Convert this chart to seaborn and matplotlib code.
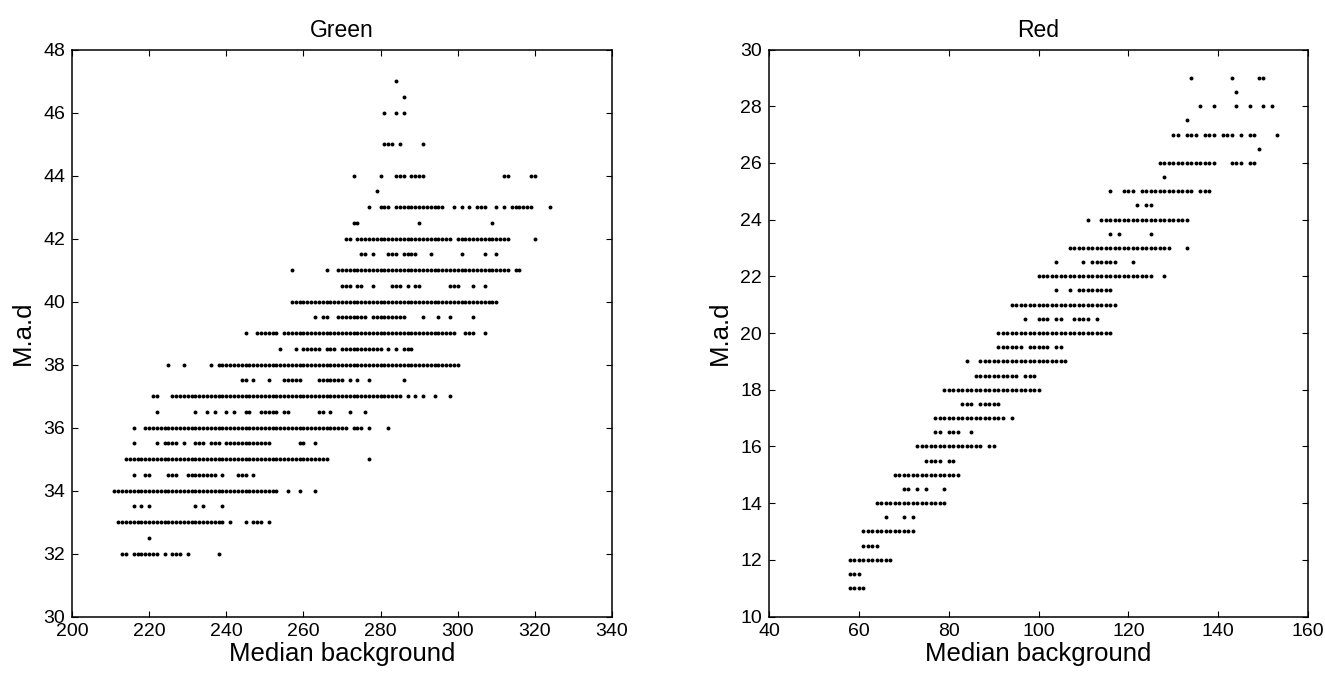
import matplotlib
matplotlib.use("Agg")
import matplotlib.pyplot as plt
import seaborn as sns
import pandas as pd

# Each row lists the median-background values observed at one M.a.d level.
# A tuple (a, b) stands for every integer value from a to b inclusive.
green_mad = [47, 46.5, 46, 45, 44, 43.5, 43, 42.5, 42, 41.5, 41, 40.5, 40,
             39.5, 39, 38.5, 38, 37.5, 37, 36.5, 36, 35.5, 35, 34.5, 34,
             33.5, 33, 32.5, 32]
green_background = [
    [284],
    [286],
    [281, 284, 286],
    [281, 282, 283, 285, 291],
    [273, 280, 284, 285, 286, 288, 289, 290, 291, 312, 313, 319, 320],
    [279],
    [277, 280, 281, 282, (284, 296), 299, 301, 303, 305, 306, 307, 310, 312,
     (314, 319), 324],
    [273, 274, 290, 309],
    [271, 272, (274, 298), (300, 313), 320],
    [275, 276, 278, 282, 283, 284, 286, 287, 288, 289, 293, 301, 307, 310],
    [257, 266, (269, 313), 315, 316],
    [270, 271, 272, 274, 275, 278, 283, 284, 285, 287, 289, 290, 298, 299,
     300, 304, 307],
    [(257, 310)],
    [263, 265, 266, (269, 276), (278, 286), 291, 295, 298, 304],
    [245, (248, 253), (255, 299), 302, 303, 304, 307],
    [254, 258, 260, 261, 262, 263, 264, 266, 267, 268, (270, 280), 282, 284,
     286, 287, 288],
    [225, 229, 236, (238, 300)],
    [244, 245, 247, 251, (255, 259), (264, 270), 272, 274, 277, 286],
    [221, 222, (226, 285), 287, 289, 291, 294, 298],
    [222, 232, 235, 237, 240, 242, 245, 246, 249, 250, 251, 252, 253, 255,
     256, 264, 265, 267, 272, 276],
    [216, (219, 271), 273, 274, 275, 277, 282],
    [216, 222, 224, 225, 226, 227, 229, 232, 233, 234, 236, 237, 238, 240,
     241, (242, 251), 259, 260, 263],
    [(214, 266), 277],
    [216, 219, 220, 225, 226, 227, 230, (231, 237), 239, 243, 244, 245, 247],
    [(211, 253), 256, 259, 263],
    [216, 218, 220, 232, 234, 239],
    [(212, 239), 241, 245, 247, 248, 249, 251],
    [220],
    [213, 214, (216, 222), 224, 226, 227, 228, 230, 238],
]

red_mad = [29, 28.5, 28, 27.5, 27, 26.5, 26, 25.5, 25, 24.5, 24, 23.5, 23,
           22.5, 22, 21.5, 21, 20.5, 20, 19.5, 19, 18.5, 18, 17.5, 17, 16.5,
           16, 15.5, 15, 14.5, 14, 13.5, 13, 12.5, 12, 11.5, 11]
red_background = [
    [134, 143, 149, 150],
    [144],
    [136, 139, 144, 147, 150, 152],
    [133],
    [130, 131, 133, 134, 135, 137, 138, 139, 141, 142, 143, 145, 147, 148,
     153],
    [149],
    [(127, 139), 143, 144, 145, 147, 148],
    [128],
    [116, 119, 120, 121, (123, 134), 136, 137, 138],
    [122, 124, 125],
    [111, (114, 133)],
    [116, 118, 125],
    [(107, 129), 133],
    [104, 110, 112, 113, 114, 115, 116, 117, 121],
    [(100, 125), 128],
    [104, 107, 109, 110, 111, 112, 113, 114, 115, 116],
    [(94, 117)],
    [97, 100, 101, 102, 104, 105, 108, 109, 110, 111, 113],
    [(91, 116)],
    [91, 92, 93, 94, 95, 96, 98, 99, 100, 101, 102, 104, 105],
    [84, (87, 106)],
    [(86, 94), 95, 97, 98, 99],
    [(79, 100)],
    [83, 84, 85, 87, 88, 89, 90, 91],
    [(77, 92), 94],
    [77, 78, 80, 81, 82, 85],
    [(73, 87), 89, 90],
    [75, 76, 77, 78, 80, 81],
    [(68, 82)],
    [70, 71, 73, 75, 79],
    [(64, 79)],
    [66, 70, 72],
    [(61, 72)],
    [61, 62, 63, 64],
    [(58, 67)],
    [58, 59, 60],
    [58, 59, 60, 61],
]

panel_titles = ["Green", "Red"]
x_label = "Median background"
y_label = "M.a.d"


def expand(levels, rows):
    xs, ys = [], []
    for level, row in zip(levels, rows):
        for item in row:
            values = range(item[0], item[1] + 1) if isinstance(item, tuple) else [item]
            for v in values:
                xs.append(v)
                ys.append(level)
    return pd.DataFrame({"background": xs, "mad": ys})


sns.set_theme(style="white")
plt.rcParams["font.family"] = ["Liberation Sans", "DejaVu Sans"]
plt.rcParams["text.color"] = "black"
plt.rcParams["axes.labelcolor"] = "black"
plt.rcParams["axes.titlecolor"] = "black"

fig = plt.figure(figsize=(13.25, 6.73), dpi=100)
W, H = 1325, 673
ax_g = fig.add_axes([72 / W, (H - 616.5) / H, 540 / W, 567 / H])
ax_r = fig.add_axes([769 / W, (H - 616.5) / H, 539 / W, 567 / H])

panels = [
    (ax_g, expand(green_mad, green_background), (200, 340), range(200, 341, 20),
     (30, 48), range(30, 49, 2)),
    (ax_r, expand(red_mad, red_background), (40, 160), range(40, 161, 20),
     (10, 30), range(10, 31, 2)),
]

for (ax, df, xlim, xticks, ylim, yticks), title in zip(panels, panel_titles):
    sns.scatterplot(data=df, x="background", y="mad", ax=ax, color="black",
                    s=8, linewidth=0, marker="o", legend=False)
    ax.set_xlim(*xlim)
    ax.set_ylim(*ylim)
    ax.set_xticks(list(xticks))
    ax.set_yticks(list(yticks))
    ax.set_facecolor("white")
    for spine in ax.spines.values():
        spine.set_visible(True)
        spine.set_color("black")
        spine.set_linewidth(1.1)
    ax.tick_params(direction="in", length=4, width=0.8, top=True, right=True,
                   bottom=True, left=True, labelsize=14, colors="black",
                   pad=5)
    ax.set_title(title, fontsize=16.5, pad=9, color="black")
    ax.set_xlabel(x_label, fontsize=18.5, labelpad=1, color="black")
    ax.set_ylabel(y_label, fontsize=18.5, labelpad=6, color="black")
    ax.grid(False)

fig.savefig("out.png", dpi=100, facecolor="white")
